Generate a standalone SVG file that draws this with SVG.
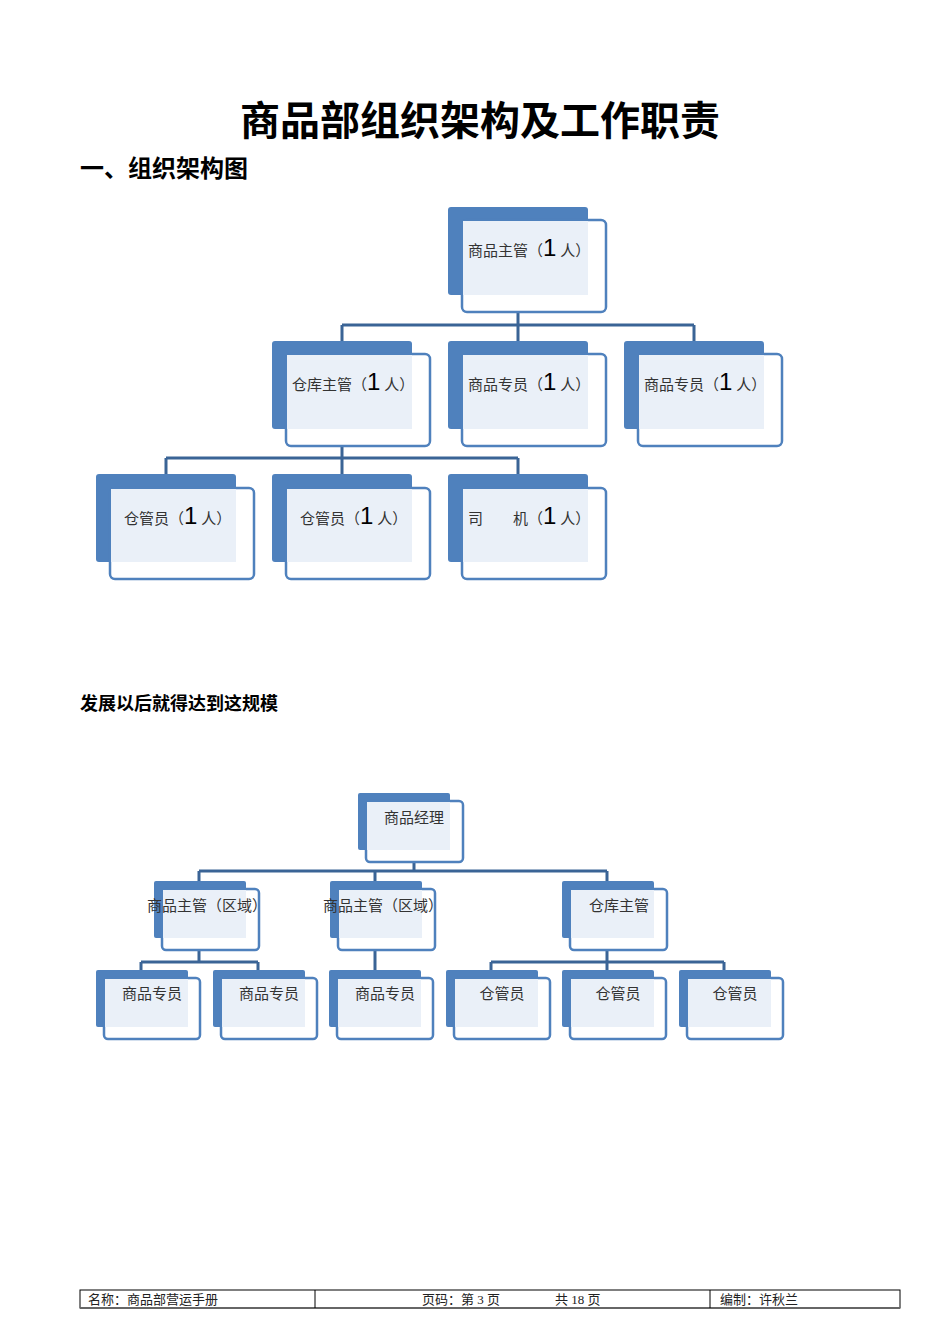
<svg xmlns="http://www.w3.org/2000/svg" width="950" height="1344" viewBox="0 0 950 1344">
<style>
.bk{fill:#4f81bd}
.fr{fill:#fff;stroke:#4f81bd;stroke-width:2.5}
.lt{fill:#eaf0f8}
.t{font-family:"Liberation Serif","Noto Sans CJK SC",serif;font-size:15px;fill:#333}
.n{font-family:"Liberation Sans",sans-serif;font-size:24px;fill:#000}
.c{fill:none;stroke:#3a6496;stroke-width:3}
.h{font-family:"Liberation Sans","Noto Sans CJK SC",sans-serif;font-weight:bold;fill:#000}
.f{font-family:"Liberation Serif","Noto Sans CJK SC",serif;font-size:13px;fill:#222}
</style>
<rect width="950" height="1344" fill="#fff"/>
<text class="h" x="480" y="135" font-size="40" text-anchor="middle">商品部组织架构及工作职责</text>
<text class="h" x="80" y="177" font-size="24">一、组织架构图</text>
<text class="h" x="80" y="710" font-size="18">发展以后就得达到这规模</text>
<g id="connectors">
<path class="c" d="M518 312V325M342 325H694M342 325V354M518 325V354M694 325V354"/>
<path class="c" d="M342 446V458M166 458H518M166 458V488M342 458V488M518 458V488"/>
<path class="c" d="M414 862V871M199 871H607M199 871V889M375 871V889M607 871V889"/>
<path class="c" d="M199 950V962M141 962H258M141 962V978M258 962V978M375 950V978M607 950V962M491 962H724M491 962V978M607 962V978M724 962V978"/>
</g>
<g id="n1"><rect class="bk" x="448" y="207" width="140" height="88" rx="3"/><rect class="fr" x="462" y="220" width="144" height="92" rx="5"/><rect class="lt" x="463" y="221" width="125" height="74"/><text class="t" x="468" y="256">商品主管（<tspan class="n">1</tspan> 人）</text></g>
<g id="n2"><rect class="bk" x="272" y="341" width="140" height="88" rx="3"/><rect class="fr" x="286" y="354" width="144" height="92" rx="5"/><rect class="lt" x="287" y="355" width="125" height="74"/><text class="t" x="292" y="390">仓库主管（<tspan class="n">1</tspan> 人）</text></g>
<g id="n3"><rect class="bk" x="448" y="341" width="140" height="88" rx="3"/><rect class="fr" x="462" y="354" width="144" height="92" rx="5"/><rect class="lt" x="463" y="355" width="125" height="74"/><text class="t" x="468" y="390">商品专员（<tspan class="n">1</tspan> 人）</text></g>
<g id="n4"><rect class="bk" x="624" y="341" width="140" height="88" rx="3"/><rect class="fr" x="638" y="354" width="144" height="92" rx="5"/><rect class="lt" x="639" y="355" width="125" height="74"/><text class="t" x="644" y="390">商品专员（<tspan class="n">1</tspan> 人）</text></g>
<g id="n5"><rect class="bk" x="96" y="474" width="140" height="88" rx="3"/><rect class="fr" x="110" y="488" width="144" height="91" rx="5"/><rect class="lt" x="111" y="489" width="125" height="73"/><text class="t" x="124" y="524">仓管员（<tspan class="n">1</tspan> 人）</text></g>
<g id="n6"><rect class="bk" x="272" y="474" width="140" height="88" rx="3"/><rect class="fr" x="286" y="488" width="144" height="91" rx="5"/><rect class="lt" x="287" y="489" width="125" height="73"/><text class="t" x="300" y="524">仓管员（<tspan class="n">1</tspan> 人）</text></g>
<g id="n7"><rect class="bk" x="448" y="474" width="140" height="88" rx="3"/><rect class="fr" x="462" y="488" width="144" height="91" rx="5"/><rect class="lt" x="463" y="489" width="125" height="73"/><text class="t" x="468" y="524">司<tspan dx="30">机（</tspan><tspan class="n">1</tspan> 人）</text></g>
<g id="m1"><rect class="bk" x="358" y="793" width="92" height="57" rx="2"/><rect class="fr" x="366" y="801" width="97" height="61" rx="4"/><rect class="lt" x="367" y="802" width="83" height="48"/><text class="t" x="414" y="823" text-anchor="middle">商品经理</text></g>
<g id="m2"><rect class="bk" x="154" y="881" width="92" height="57" rx="2"/><rect class="fr" x="162" y="889" width="97" height="61" rx="4"/><rect class="lt" x="163" y="890" width="83" height="48"/><text class="t" x="207" y="911" text-anchor="middle">商品主管（区域）</text></g>
<g id="m3"><rect class="bk" x="330" y="881" width="92" height="57" rx="2"/><rect class="fr" x="338" y="889" width="97" height="61" rx="4"/><rect class="lt" x="339" y="890" width="83" height="48"/><text class="t" x="383" y="911" text-anchor="middle">商品主管（区域）</text></g>
<g id="m4"><rect class="bk" x="562" y="881" width="92" height="57" rx="2"/><rect class="fr" x="570" y="889" width="97" height="61" rx="4"/><rect class="lt" x="571" y="890" width="83" height="48"/><text class="t" x="619" y="911" text-anchor="middle">仓库主管</text></g>
<g id="b1"><rect class="bk" x="96" y="970" width="92" height="57" rx="2"/><rect class="fr" x="104" y="978" width="96" height="61" rx="4"/><rect class="lt" x="105" y="979" width="83" height="48"/><text class="t" x="152" y="999" text-anchor="middle">商品专员</text></g>
<g id="b2"><rect class="bk" x="213" y="970" width="92" height="57" rx="2"/><rect class="fr" x="221" y="978" width="96" height="61" rx="4"/><rect class="lt" x="222" y="979" width="83" height="48"/><text class="t" x="269" y="999" text-anchor="middle">商品专员</text></g>
<g id="b3"><rect class="bk" x="329" y="970" width="92" height="57" rx="2"/><rect class="fr" x="337" y="978" width="96" height="61" rx="4"/><rect class="lt" x="338" y="979" width="83" height="48"/><text class="t" x="385" y="999" text-anchor="middle">商品专员</text></g>
<g id="b4"><rect class="bk" x="446" y="970" width="92" height="57" rx="2"/><rect class="fr" x="454" y="978" width="96" height="61" rx="4"/><rect class="lt" x="455" y="979" width="83" height="48"/><text class="t" x="502" y="999" text-anchor="middle">仓管员</text></g>
<g id="b5"><rect class="bk" x="562" y="970" width="92" height="57" rx="2"/><rect class="fr" x="570" y="978" width="96" height="61" rx="4"/><rect class="lt" x="571" y="979" width="83" height="48"/><text class="t" x="618" y="999" text-anchor="middle">仓管员</text></g>
<g id="b6"><rect class="bk" x="679" y="970" width="92" height="57" rx="2"/><rect class="fr" x="687" y="978" width="96" height="61" rx="4"/><rect class="lt" x="688" y="979" width="83" height="48"/><text class="t" x="735" y="999" text-anchor="middle">仓管员</text></g>
<g id="footer">
<rect x="80" y="1290" width="820" height="18" fill="none" stroke="#000" stroke-width="1"/>
<line x1="80" y1="1308" x2="900" y2="1308" stroke="#666" stroke-width="2"/>
<line x1="315" y1="1290" x2="315" y2="1308" stroke="#000"/>
<line x1="710" y1="1290" x2="710" y2="1308" stroke="#000"/>
<text class="f" x="88" y="1304">名称：商品部营运手册</text>
<text class="f" x="422" y="1304">页码：第 3 页</text>
<text class="f" x="555" y="1304">共 18 页</text>
<text class="f" x="720" y="1304">编制：许秋兰</text>
</g>
</svg>
